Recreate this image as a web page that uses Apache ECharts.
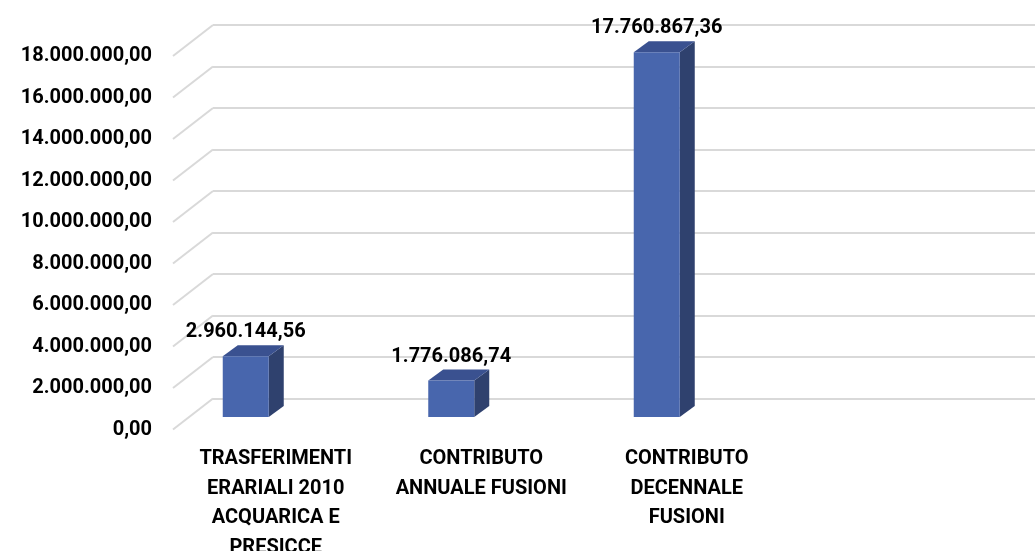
<!DOCTYPE html>
<html>
<head>
<meta charset="utf-8">
<script src="https://cdn.jsdelivr.net/npm/echarts@6/dist/echarts.min.js"></script>
<style>
html,body{margin:0;padding:0;background:#fff;}
#chart{width:1035px;height:551px;}
</style>
</head>
<body>
<div id="chart"></div>
<script>
// ---- data ----
const categories = [
  'TRASFERIMENTI\nERARIALI 2010\nACQUARICA E\nPRESICCE',
  'CONTRIBUTO\nANNUALE FUSIONI',
  'CONTRIBUTO\nDECENNALE\nFUSIONI',
  ''
];
const values = [2960144.56, 1776086.74, 17760867.36];
const yTicks = [0, 2000000, 4000000, 6000000, 8000000, 10000000, 12000000, 14000000, 16000000, 18000000];

// ---- styles ----
const FONT = 'Roboto';
const FS = 20;
const GRID_COLOR = '#D9D9D9';
const DEPTH_X = -40, DEPTH_Y = 31;     // back wall -> front plane
const BAR_DX = -70, BAR_DY = 18.5, BAR_W = 46, BAR_SX = 15, BAR_SY = -11, BAR_SCALE = 0.99;

function fmtIt(v) {
  const neg = v < 0; v = Math.abs(v);
  const s = v.toFixed(2);
  let [i, d] = s.split('.');
  i = i.replace(/\B(?=(\d{3})+(?!\d))/g, '.');
  return (neg ? '-' : '') + i + ',' + d;
}

const chart = echarts.init(document.getElementById('chart'), null, {renderer: 'canvas'});

const yMin = yTicks[0], yMax = yTicks[yTicks.length - 1], yInt = yTicks[1] - yTicks[0];

const option = {
  animation: false,
  backgroundColor: '#ffffff',
  grid: [
    {left: 213, right: 0, top: 25, bottom: 152.5, containLabel: false, outerBoundsMode: 'none'},
    {left: 213 + DEPTH_X, right: -DEPTH_X, top: 25 + DEPTH_Y, bottom: 152.5 - DEPTH_Y, containLabel: false, outerBoundsMode: 'none'}
  ],
  xAxis: [
    {type: 'category', gridIndex: 0, data: categories, axisLine: {show: false}, axisTick: {show: false}, axisLabel: {show: false}},
    {type: 'category', gridIndex: 1, data: categories, axisLine: {show: false}, axisTick: {show: false},
      axisLabel: {show: true, interval: 0, margin: 15, color: '#000', fontFamily: FONT, fontWeight: 'bold', fontSize: FS, lineHeight: 29.5, align: 'center'}}
  ],
  yAxis: [
    {type: 'value', gridIndex: 0, min: yMin, max: yMax, interval: yInt,
      axisLine: {show: false}, axisTick: {show: false}, axisLabel: {show: false},
      splitLine: {show: true, lineStyle: {color: GRID_COLOR, width: 2}}},
    {type: 'value', gridIndex: 1, min: yMin, max: yMax, interval: yInt,
      axisLine: {show: false}, axisTick: {show: false}, splitLine: {show: false},
      axisLabel: {show: true, margin: 21, color: '#000', fontFamily: FONT, fontWeight: 'bold', fontSize: FS, formatter: fmtIt}}
  ],
  series: [
    {
      type: 'custom', xAxisIndex: 0, yAxisIndex: 0, z: 2,
      data: yTicks.map(v => [0, v]),
      renderItem: function (params, api) {
        const p = api.coord([0, api.value(1)]);
        const x = params.coordSys.x;
        return {
          type: 'line',
          shape: {x1: x, y1: p[1], x2: x + DEPTH_X, y2: p[1] + DEPTH_Y},
          style: {stroke: GRID_COLOR, lineWidth: 2}
        };
      }
    },
    {
      type: 'custom', xAxisIndex: 0, yAxisIndex: 0, z: 5,
      data: values.map((v, i) => [i, v]),
      renderItem: function (params, api) {
        const idx = api.value(0), val = api.value(1);
        const c = api.coord([idx, val]);
        const b = api.coord([idx, 0]);
        const cx = c[0] + BAR_DX;
        const bottom = b[1] + BAR_DY;
        const top = bottom - (b[1] - c[1]) * BAR_SCALE;
        const x0 = cx - BAR_W / 2, x1 = cx + BAR_W / 2;
        return {
          type: 'group',
          children: [
            {type: 'polygon', shape: {points: [[x1, top], [x1 + BAR_SX, top + BAR_SY], [x1 + BAR_SX, bottom + BAR_SY], [x1, bottom]]},
              style: {fill: '#2F416E'}},
            {type: 'polygon', shape: {points: [[x0, top], [x0 + BAR_SX, top + BAR_SY], [x1 + BAR_SX, top + BAR_SY], [x1, top]]},
              style: {fill: '#3A5190'}},
            {type: 'rect', shape: {x: x0, y: top, width: BAR_W, height: bottom - top},
              style: {fill: '#4866AD'}},
            {type: 'text', x: cx, y: top - 24,
              style: {text: fmtIt(val), x: 0, y: 0, align: 'center', verticalAlign: 'middle',
                fill: '#000', font: 'bold ' + FS + 'px ' + FONT}}
          ]
        };
      }
    }
  ]
};
chart.setOption(option);
</script>
</body>
</html>
